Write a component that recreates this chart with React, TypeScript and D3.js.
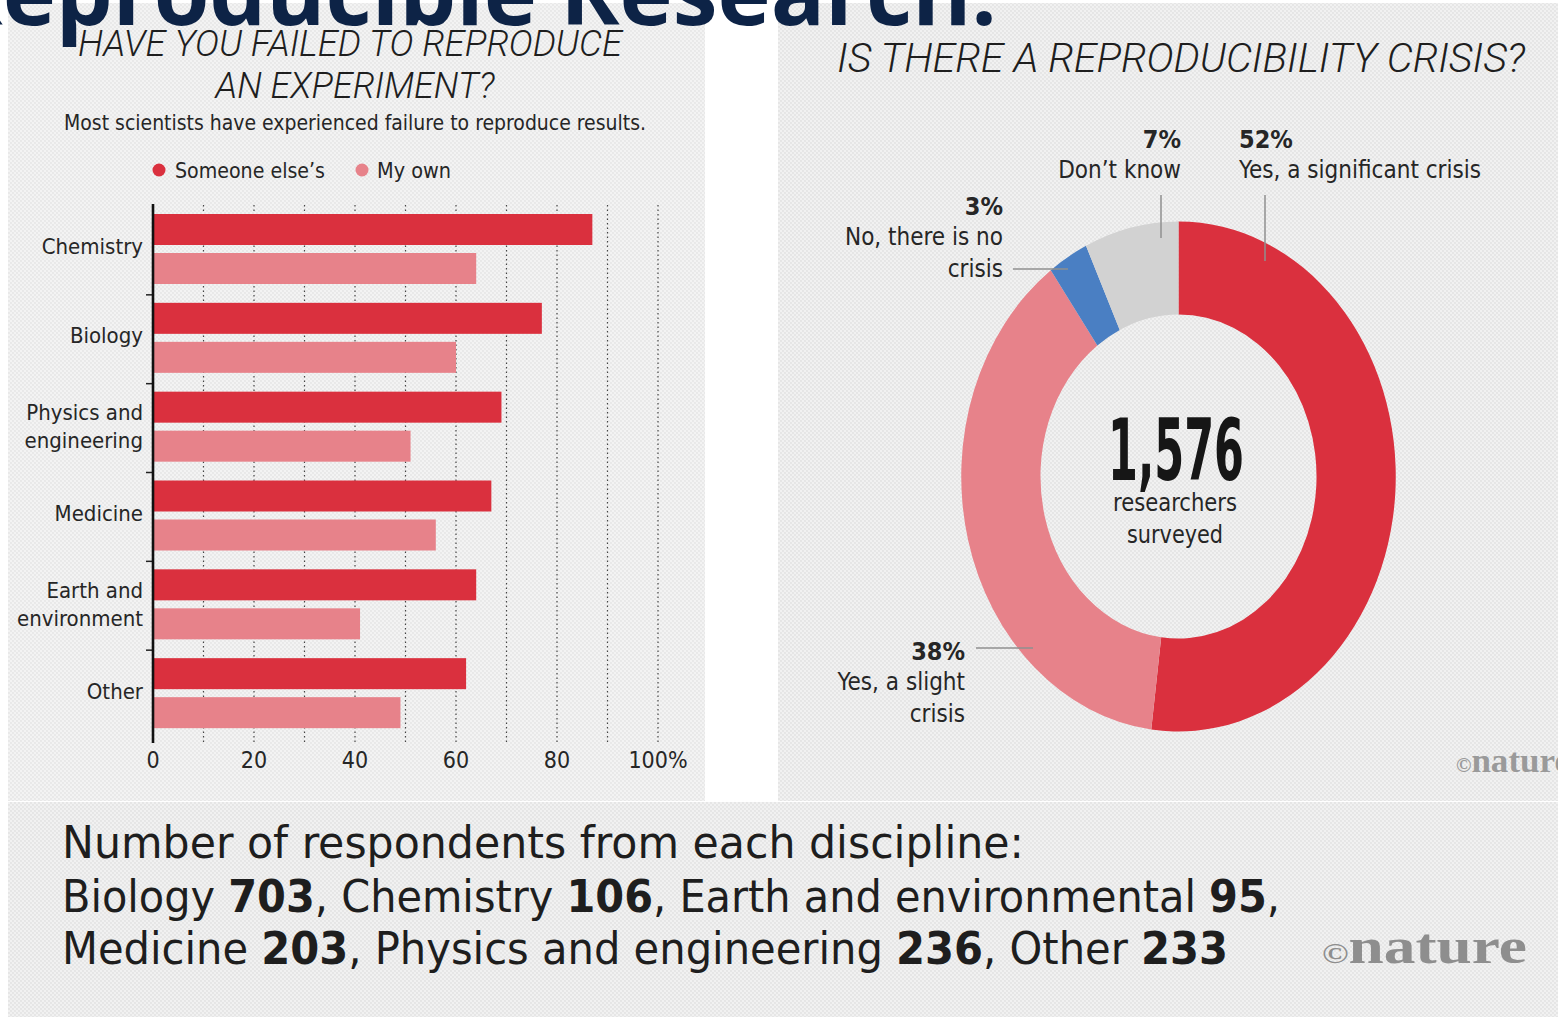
import React from 'react';
import * as d3 from 'd3';

// ---------- DATA ----------
const categories = ['Chemistry', 'Biology', 'Physics and engineering', 'Medicine', 'Earth and environment', 'Other'];
const categoryLabelLines = [['Chemistry'], ['Biology'], ['Physics and', 'engineering'], ['Medicine'], ['Earth and', 'environment'], ['Other']];
const someoneElses = [87, 77, 69, 67, 64, 62];
const myOwn = [64, 60, 51, 56, 41, 49];
const xTickValues = [0, 20, 40, 60, 80, 100];
const xTickLabels = ['0', '20', '40', '60', '80', '100%'];
const gridValues = [10, 20, 30, 40, 50, 60, 70, 80, 90, 100];
const legendLabels = ["Someone else\u2019s", 'My own'];

const crisisKeys = ['significant', 'slight', 'no', 'dontknow'];
const crisisValues = [52, 38, 3, 7];
const crisisPercentLabels = ['52%', '38%', '3%', '7%'];
const crisisTextLines = [['Yes, a significant crisis'], ['Yes, a slight', 'crisis'], ['No, there is no', 'crisis'], ["Don\u2019t know"]];
const totalSurveyed = '1,576';

const respondentDisciplines = ['Biology', 'Chemistry', 'Earth and environmental', 'Medicine', 'Physics and engineering', 'Other'];
const respondentCounts = [703, 106, 95, 203, 236, 233];

// ---------- STYLE ----------
const NARROW = "'DejaVu Sans Condensed', 'Liberation Sans Narrow', 'Arial Narrow', sans-serif";
const DARK_RED = '#da303e';
const PINK = '#e7828a';
const BLUE = '#4a7fc3';
const GREY = '#d2d2d2';
const crisisColors = [DARK_RED, PINK, BLUE, GREY];
const TEXT = '#262626';

export default function App() {
  const x = d3.scaleLinear().domain([0, 100]).range([153, 658]);
  const y = d3.scaleBand<string>().domain(categories).range([206, 739]);
  const bw = y.bandwidth();
  const barH = 31;

  const pie = d3.pie<number>().sort(null).value((d) => d)(crisisValues);
  const arc = d3.arc<d3.PieArcDatum<number>>().innerRadius(162).outerRadius(255);
  const cx = 1178.5, cy = 476.5, sx = 0.852;

  const labelPos = [
    { x: 1239, y: 148, anchor: 'start', line: [[1265, 195], [1265, 261]] },
    { x: 965, y: 660, anchor: 'end', line: [[976, 648], [1033, 648]] },
    { x: 1003, y: 215, anchor: 'end', line: [[1013, 269], [1068, 269]] },
    { x: 1181, y: 148, anchor: 'end', line: [[1161, 195], [1161, 238]] },
  ];

  return (
    <svg width={1558} height={1017} style={{ position: 'fixed', left: 0, top: 0, background: '#fff' }}>
      <defs>
        <pattern id="tex" width="4" height="4" patternUnits="userSpaceOnUse">
          <rect width="4" height="4" fill="#f3f3f3" />
          <circle cx="1" cy="1" r="0.9" fill="#e4e4e4" />
          <circle cx="3" cy="3" r="0.9" fill="#e4e4e4" />
        </pattern>
        <pattern id="tex2" width="4" height="4" patternUnits="userSpaceOnUse">
          <rect width="4" height="4" fill="#f1f1f1" />
          <circle cx="1" cy="1" r="0.9" fill="#e1e1e1" />
          <circle cx="3" cy="3" r="0.9" fill="#e1e1e1" />
        </pattern>
      </defs>
      {/* panels */}
      <rect x={8} y={3} width={697} height={798} fill="url(#tex)" />
      <rect x={778} y={3} width={780} height={798} fill="url(#tex2)" />
      <rect x={8} y={802} width={1550} height={215} fill="url(#tex2)" />

      {/* ---------- LEFT: bar chart ---------- */}
      <g fontFamily="Roboto" fontStyle="italic" fontWeight={300} fill="#1e1e1e" textAnchor="middle">
        <text x={350} y={56} fontSize={36} textLength={544} lengthAdjust="spacingAndGlyphs">HAVE YOU FAILED TO REPRODUCE</text>
        <text x={355} y={98} fontSize={36} textLength={279} lengthAdjust="spacingAndGlyphs">AN EXPERIMENT?</text>
      </g>
      <text x={355} y={130} fontFamily={NARROW} fontSize={22} fill={TEXT} textAnchor="middle" textLength={582} lengthAdjust="spacingAndGlyphs">
        Most scientists have experienced failure to reproduce results.
      </text>
      {/* legend */}
      <g fontFamily={NARROW} fontSize={22} fill={TEXT}>
        <circle cx={159} cy={170} r={6.5} fill={DARK_RED} />
        <text x={175} y={178} textLength={150} lengthAdjust="spacingAndGlyphs">{legendLabels[0]}</text>
        <circle cx={362} cy={170} r={6.5} fill={PINK} />
        <text x={377} y={178} textLength={74} lengthAdjust="spacingAndGlyphs">{legendLabels[1]}</text>
      </g>
      {/* grid */}
      {gridValues.map((v) => (
        <line key={v} x1={x(v)} x2={x(v)} y1={205} y2={742} stroke="#444" strokeWidth={1.2} strokeDasharray="1.5,3" />
      ))}
      {/* bars */}
      {categories.map((c, i) => (
        <g key={c}>
          <rect x={x(0)} y={(y(c) as number) + 8} width={x(someoneElses[i]) - x(0)} height={barH} fill={DARK_RED} />
          <rect x={x(0)} y={(y(c) as number) + 47} width={x(myOwn[i]) - x(0)} height={barH} fill={PINK} />
        </g>
      ))}
      {/* band boundary ticks */}
      {categories.slice(1).map((c) => (
        <line key={c} x1={146} x2={153} y1={y(c) as number} y2={y(c) as number} stroke="#222" strokeWidth={1.5} />
      ))}
      {/* axis line */}
      <line x1={x(0)} x2={x(0)} y1={204} y2={743} stroke="#111" strokeWidth={2.6} />
      {/* category labels */}
      <g fontFamily={NARROW} fontSize={22} fill={TEXT} textAnchor="end">
        {categories.map((c, i) => {
          const mid = (y(c) as number) + bw / 2;
          const lines = categoryLabelLines[i];
          if (lines.length === 1) {
            return <text key={c} x={143} y={mid + 4}>{lines[0]}</text>;
          }
          return (
            <g key={c}>
              <text x={143} y={mid - 8}>{lines[0]}</text>
              <text x={143} y={mid + 20}>{lines[1]}</text>
            </g>
          );
        })}
      </g>
      {/* x tick labels */}
      <g fontFamily={NARROW} fontSize={23} fill={TEXT} textAnchor="middle">
        {xTickValues.map((v, i) => (
          <text key={v} x={x(v)} y={768}>{xTickLabels[i]}</text>
        ))}
      </g>

      {/* ---------- RIGHT: donut ---------- */}
      <text x={1181} y={72} fontFamily="Roboto" fontStyle="italic" fontWeight={300} fontSize={40} fill="#1e1e1e" textAnchor="middle" textLength={688} lengthAdjust="spacingAndGlyphs">
        IS THERE A REPRODUCIBILITY CRISIS?
      </text>
      <g transform={`translate(${cx},${cy}) scale(${sx},1)`}>
        {pie.map((p, i) => (
          <path key={crisisKeys[i]} d={arc(p) as string} fill={crisisColors[i]} />
        ))}
      </g>
      {labelPos.map((l, i) => (
        <line key={i} x1={l.line[0][0]} y1={l.line[0][1]} x2={l.line[1][0]} y2={l.line[1][1]} stroke="#8f8f8f" strokeWidth={1.5} />
      ))}
      <g fontFamily={NARROW} fill={TEXT}>
        {labelPos.map((l, i) => (
          <g key={i} textAnchor={l.anchor}>
            <text x={l.x} y={l.y} fontSize={25} fontWeight={700}>{crisisPercentLabels[i]}</text>
            {crisisTextLines[i].map((t, j) => (
              <text key={j} x={l.x} y={l.y + 30 + j * 32} fontSize={24}>{t}</text>
            ))}
          </g>
        ))}
      </g>
      {/* center */}
      <g fontFamily={NARROW} fill="#161616" textAnchor="middle">
        <text x={1176} y={480} fontSize={86} fontWeight={700} textLength={136} lengthAdjust="spacingAndGlyphs">{totalSurveyed}</text>
        <text x={1175} y={511} fontSize={25} fill={TEXT} textLength={124} lengthAdjust="spacingAndGlyphs">researchers</text>
        <text x={1175} y={543} fontSize={25} fill={TEXT} textLength={96} lengthAdjust="spacingAndGlyphs">surveyed</text>
      </g>
      <text x={1456} y={772} fontFamily="'Liberation Serif', serif" fontWeight={700} fontSize={34} fill="#9a9a9a" textLength={114} lengthAdjust="spacingAndGlyphs">
        <tspan fontSize={20}>©</tspan>nature
      </text>

      {/* ---------- BOTTOM ---------- */}
      <g fontFamily={NARROW} fontSize={45} fill="#1e1e1e">
        <text x={62} y={858} textLength={962} lengthAdjust="spacingAndGlyphs">Number of respondents from each discipline:</text>
        <text x={62} y={912} textLength={1218} lengthAdjust="spacingAndGlyphs">
          {respondentDisciplines.slice(0, 3).map((d, i) => (
            <tspan key={d}>
              {d} <tspan fontWeight={700}>{respondentCounts[i]}</tspan>,{i < 2 ? ' ' : ''}
            </tspan>
          ))}
        </text>
        <text x={62} y={964} textLength={1166} lengthAdjust="spacingAndGlyphs">
          {respondentDisciplines.slice(3).map((d, i) => (
            <tspan key={d}>
              {d} <tspan fontWeight={700}>{respondentCounts[i + 3]}</tspan>{i < 2 ? ', ' : ''}
            </tspan>
          ))}
        </text>
      </g>
      <text x={1322} y={963} fontFamily="'Liberation Serif', serif" fontWeight={700} fontSize={50} fill="#8e8e8e" textLength={205} lengthAdjust="spacingAndGlyphs">
        <tspan fontSize={28}>©</tspan>nature
      </text>

      {/* big heading, clipped at top */}
      <text x={997} y={25} textAnchor="end" fontFamily="'Open Sans', sans-serif" fontWeight={700} fontSize={90} fill="#0d2346">
        Reproducible Research:
      </text>
    </svg>
  );
}
